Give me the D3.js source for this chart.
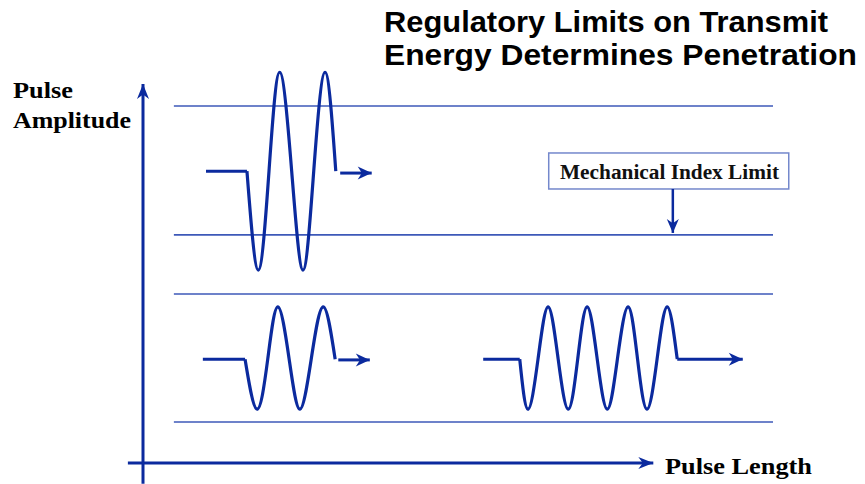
<!DOCTYPE html>
<html>
<head>
<meta charset="utf-8">
<script src="https://cdn.jsdelivr.net/npm/d3@7"></script>
<style>
  body { margin: 0; background: #fff; }
  svg { display: block; }
</style>
</head>
<body>
<script>
var width = 865 //width of page
var height = 484 //height of page

// texts
var titleLines = ["Regulatory Limits on Transmit", "Energy Determines Penetration"]
var yLabelLines = ["Pulse", "Amplitude"]
var xLabel = "Pulse Length"
var limitLabel = "Mechanical Index Limit"

// limit lines (amplitude units, 0..100)
var limitLevels = [94.2, 60.2, 44.6, 10.8]
var limitFrom = 4.9
var limitTo = 100

// pulses: flat lead-in, wave key points, trailing arrow
var pulseLead = [10.0, 9.5, 54.0]
var pulseX = [
  [16.5, 18.3, 20.0, 21.7, 23.6, 25.4, 27.1, 28.9, 30.6],
  [16.2, 18.1, 19.8, 21.4, 23.2, 24.9, 26.7, 28.6, 30.5],
  [59.8, 61.1, 62.7, 64.3, 65.9, 67.5, 69.0, 70.5, 72.1, 73.7, 75.3, 77.0, 78.5, 80.0, 81.6, 83.2, 84.8]
]
var pulseY = [
  [77.0, 50.9, 77.0, 103.1, 77.0, 50.9, 77.0, 103.1, 77.0],
  [27.4, 14.2, 27.4, 41.2, 27.4, 14.2, 27.4, 41.2, 27.4],
  [27.4, 14.2, 27.4, 41.2, 27.4, 14.2, 27.4, 41.2, 27.4, 14.2, 27.4, 41.2, 27.4, 14.2, 27.4, 41.2, 27.4]
]
var arrowFrom = [31.3, 31.0, 84.8]
var arrowTo = [36.3, 36.0, 95.2]
var arrowLevel = [76.5, 27.2, 27.4]

// label box and its pointer
var boxX = [64.4, 102.5]
var boxY = [72.3, 81.8]
var pointerX = 84.1
var pointerTip = 60.7

// axes extents
var xAxisRange = [-2.4, 81.0]
var yAxisRange = [-5.5, 100]

var waveColor = "#0b2a9e"
var limitColor = "#3d58b8"

var svg = d3.select("body").append("svg")
  .attr("width", width)
  .attr("height", height)

var x = d3.scaleLinear().domain([0, 100]).range([143, 773])
var y = d3.scaleLinear().domain([0, 100]).range([463, 84])

// arrow heads
var defs = svg.append("defs")
function addHead(id, len, half) {
  defs.append("marker")
    .attr("id", id)
    .attr("markerUnits", "userSpaceOnUse")
    .attr("viewBox", (-len - 1) + " " + (-half - 1) + " " + (len + 2) + " " + (2 * half + 2))
    .attr("markerWidth", len + 2)
    .attr("markerHeight", 2 * half + 2)
    .attr("refX", 0)
    .attr("refY", 0)
    .attr("orient", "auto")
    .append("path")
    .attr("d", "M0,0 L" + (-len) + "," + (-half) + " L" + (-len * 0.7) + ",0 L" + (-len) + "," + half + " Z")
    .attr("fill", waveColor)
}
addHead("head", 14, 6.5)
addHead("axisHead", 15, 6)
addHead("pointerHead", 14, 6)

// limit lines
svg.selectAll(".limit")
  .data(limitLevels)
  .enter()
  .append("line")
  .attr("class", "limit")
  .attr("x1", x(limitFrom))
  .attr("x2", x(limitTo))
  .attr("y1", d => y(d))
  .attr("y2", d => y(d))
  .attr("stroke", limitColor)
  .attr("stroke-width", 1.6)

// axes
svg.append("line")
  .attr("x1", x(0)).attr("x2", x(0))
  .attr("y1", y(yAxisRange[0])).attr("y2", y(yAxisRange[1]))
  .attr("stroke", waveColor)
  .attr("stroke-width", 3)
  .attr("marker-end", "url(#axisHead)")

svg.append("line")
  .attr("x1", x(xAxisRange[0])).attr("x2", x(xAxisRange[1]))
  .attr("y1", y(0)).attr("y2", y(0))
  .attr("stroke", waveColor)
  .attr("stroke-width", 3)
  .attr("marker-end", "url(#axisHead)")

// pulses
var wave = d3.line()
  .x(d => x(d[0]))
  .y(d => y(d[1]))
  .curve(d3.curveNatural)

pulseX.forEach(function (xs, i) {
  var pts = xs.map((v, j) => [v, pulseY[i][j]])

  // flat lead-in
  svg.append("line")
    .attr("x1", x(pulseLead[i])).attr("x2", x(xs[0]))
    .attr("y1", y(pulseY[i][0])).attr("y2", y(pulseY[i][0]))
    .attr("stroke", waveColor)
    .attr("stroke-width", 3)

  svg.append("path")
    .datum(pts)
    .attr("d", wave)
    .attr("fill", "none")
    .attr("stroke", waveColor)
    .attr("stroke-width", 3.2)

  svg.append("line")
    .attr("x1", x(arrowFrom[i])).attr("x2", x(arrowTo[i]))
    .attr("y1", y(arrowLevel[i])).attr("y2", y(arrowLevel[i]))
    .attr("stroke", waveColor)
    .attr("stroke-width", 3)
    .attr("marker-end", "url(#head)")
})

// label box
svg.append("rect")
  .attr("x", x(boxX[0]))
  .attr("y", y(boxY[1]))
  .attr("width", x(boxX[1]) - x(boxX[0]))
  .attr("height", y(boxY[0]) - y(boxY[1]))
  .attr("fill", "#fff")
  .attr("stroke", "#7488cc")
  .attr("stroke-width", 1.5)

svg.append("text")
  .attr("x", 560)
  .attr("y", 179)
  .attr("textLength", 219)
  .attr("lengthAdjust", "spacingAndGlyphs")
  .style("font-family", "'Liberation Serif', 'Times New Roman', serif")
  .style("font-weight", "bold")
  .style("font-size", "20px")
  .attr("fill", "#111")
  .text(limitLabel)

svg.append("line")
  .attr("x1", x(pointerX)).attr("x2", x(pointerX))
  .attr("y1", y(boxY[0])).attr("y2", y(pointerTip))
  .attr("stroke", waveColor)
  .attr("stroke-width", 2.5)
  .attr("marker-end", "url(#pointerHead)")

// title
var titleLen = [444, 473]
svg.selectAll(".title")
  .data(titleLines)
  .enter()
  .append("text")
  .attr("class", "title")
  .attr("x", 384)
  .attr("y", (d, i) => 32 + i * 33)
  .attr("textLength", (d, i) => titleLen[i])
  .attr("lengthAdjust", "spacingAndGlyphs")
  .style("font-family", "'Liberation Sans', Arial, sans-serif")
  .style("font-weight", "bold")
  .style("font-size", "29px")
  .attr("fill", "#000")
  .text(d => d)

// axis labels
var yLabLen = [60, 118]
svg.selectAll(".ylab")
  .data(yLabelLines)
  .enter()
  .append("text")
  .attr("class", "ylab")
  .attr("x", 13)
  .attr("y", (d, i) => 98 + i * 30)
  .attr("textLength", (d, i) => yLabLen[i])
  .attr("lengthAdjust", "spacingAndGlyphs")
  .style("font-family", "'Liberation Serif', 'Times New Roman', serif")
  .style("font-weight", "bold")
  .style("font-size", "24px")
  .attr("fill", "#000")
  .text(d => d)

svg.append("text")
  .attr("x", 665)
  .attr("y", 474)
  .attr("textLength", 147)
  .attr("lengthAdjust", "spacingAndGlyphs")
  .style("font-family", "'Liberation Serif', 'Times New Roman', serif")
  .style("font-weight", "bold")
  .style("font-size", "24px")
  .attr("fill", "#000")
  .text(xLabel)
</script>
</body>
</html>
